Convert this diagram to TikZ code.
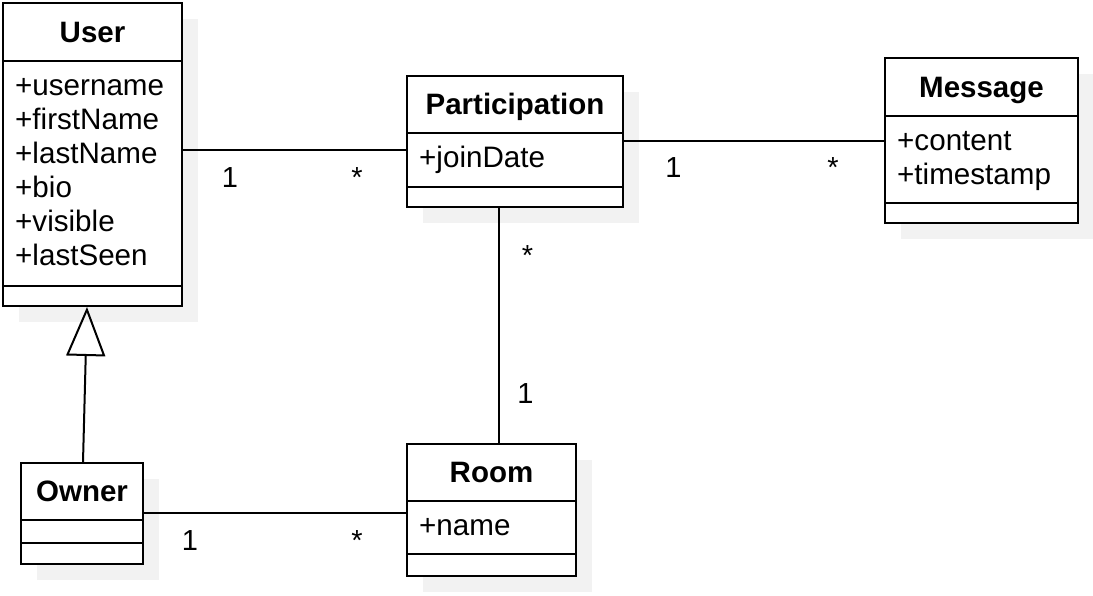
\documentclass[tikz,border=0pt]{standalone}
\usepackage{fontspec}
\setmainfont{Liberation Sans}
\usetikzlibrary{arrows.meta,fit,shadows}
\definecolor{shadowcol}{RGB}{242,242,242}
\tikzset{
  cls/.style={draw=black, line width=2pt, fill=white, inner sep=0pt,
    drop shadow={shadow xshift=16pt, shadow yshift=-16pt, fill=shadowcol, opacity=1}},
  ln/.style={draw=black, line width=2pt},
  title/.style={font=\fontsize{29.5}{34}\selectfont\bfseries, inner sep=0pt, anchor=base},
  attr/.style={font=\fontsize{29.6}{34}\selectfont, inner sep=0pt, anchor=base west},
  mult/.style={font=\fontsize{29}{34}\selectfont, inner sep=0pt, anchor=base},
  gen/.style={ln, -{Triangle[open, length=49pt, width=39pt, line width=2pt]}}
}
\newcommand\umlclassbox[8]{%
  \node[cls, fit={(#2,#3) (#4,#5)}] (#1) {};
  \draw[ln] (#1.west |- 0,#6) -- (#1.east |- 0,#6);
  \draw[ln] (#1.west |- 0,#7) -- (#1.east |- 0,#7);
  \node[title] (#1-title) at ({(#2+#4)/2},{(#3+#6)/2+10}) {#8};
}
\begin{document}
\begin{tikzpicture}[x=1pt,y=-1pt]
\useasboundingbox (0,0) rectangle (1093,595);
% classes
\umlclassbox{user}{3}{3}{182}{306}{61}{286}{User}
\umlclassbox{owner}{21}{463}{143}{564}{520}{543}{Owner}
\umlclassbox{part}{407}{76}{623}{207}{133}{187}{Participation}
\umlclassbox{msg}{885}{58}{1078}{223}{116}{203}{Message}
\umlclassbox{room}{407}{444}{576}{576}{501}{554}{Room}
% attributes
\node[attr] (user-a1) at (15,95) {+username};
\node[attr] (user-a2) at (15,129) {+firstName};
\node[attr] (user-a3) at (15,163) {+lastName};
\node[attr] (user-a4) at (15,197) {+bio};
\node[attr] (user-a5) at (15,231) {+visible};
\node[attr] (user-a6) at (15,265) {+lastSeen};
\node[attr] (part-a1) at (419,167) {+joinDate};
\node[attr] (msg-a1) at (897,150) {+content};
\node[attr] (msg-a2) at (897,184) {+timestamp};
\node[attr] (room-a1) at (419,535) {+name};
% connectors
\draw[ln] (user.east |- 0,150) -- (part.west |- 0,150);
\draw[ln] (part.east |- 0,141) -- (msg.west |- 0,141);
\draw[ln] (part.south -| 499,0) -- (room.north -| 499,0);
\draw[ln] (owner.east |- 0,513) -- (room.west |- 0,513);
\draw[gen] (owner.north -| 83,0) -- (user.south -| 87,0);
% multiplicities
\node[mult] (m1) at (230,187) {1};
\node[mult] (m2) at (357,187) {*};
\node[mult] (m3) at (673.5,177) {1};
\node[mult] (m4) at (833,177) {*};
\node[mult] (m5) at (527.5,265) {*};
\node[mult] (m6) at (525.5,403) {1};
\node[mult] (m7) at (190,550) {1};
\node[mult] (m8) at (357,550) {*};
\end{tikzpicture}
\end{document}
